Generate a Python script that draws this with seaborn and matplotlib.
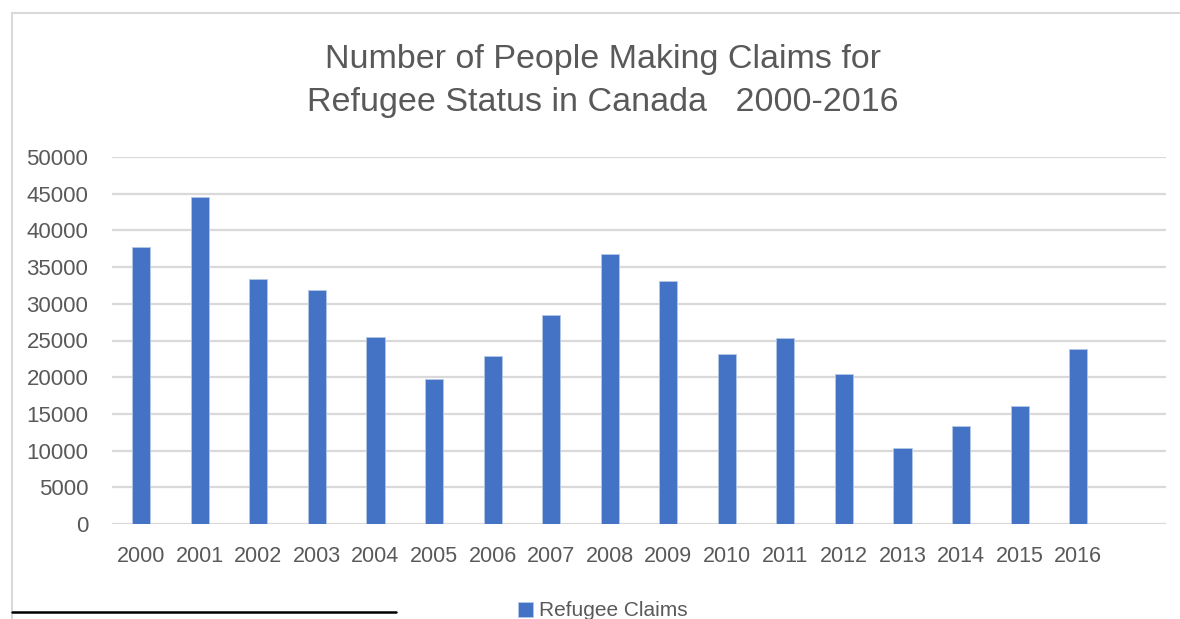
import matplotlib
matplotlib.use("Agg")
import matplotlib.pyplot as plt
import seaborn as sns
import pandas as pd
from matplotlib.lines import Line2D

years = ["2000", "2001", "2002", "2003", "2004", "2005", "2006", "2007", "2008",
         "2009", "2010", "2011", "2012", "2013", "2014", "2015", "2016"]
claims = [37700, 44600, 33400, 31900, 25500, 19700, 22900, 28500, 36800,
          33100, 23100, 25300, 20400, 10300, 13400, 16100, 23900]
categories = years + [""]
series_name = "Refugee Claims"
title_lines = ["Number of People Making Claims for",
               "Refugee Status in Canada   2000-2016"]
y_ticks = list(range(0, 50001, 5000))

sns.set_theme(style="white")
plt.rcParams["font.family"] = ["Liberation Sans", "DejaVu Sans"]

txt = "#595959"
grid = "#D9D9D9"
blue = "#4472C4"

fig = plt.figure(figsize=(11.8, 6.19), dpi=100)
ax = fig.add_axes([112 / 1180, 1 - 524 / 619, (1166 - 112) / 1180, (524 - 157) / 619])

df = pd.DataFrame({"year": years, "claims": claims})
sns.barplot(data=df, x="year", y="claims", order=categories, color=blue,
            width=0.31, saturation=1, edgecolor="#B4C7E7", linewidth=0.6,
            label=series_name, ax=ax)

ax.set_xlim(-0.5, len(categories) - 0.5)
ax.set_ylim(0, 50000)
ax.set_yticks(y_ticks)
ax.set_yticklabels([str(v) for v in y_ticks])
ax.set_xlabel("")
ax.set_ylabel("")
for s in ax.spines.values():
    s.set_visible(False)
ax.yaxis.grid(True, color=grid, linewidth=1.6)
ax.set_axisbelow(True)
ax.tick_params(axis="y", length=0, pad=17, labelsize=16, labelcolor=txt)
ax.tick_params(axis="x", length=0, pad=16, labelsize=15.5, labelcolor=txt)
if ax.get_legend():
    ax.get_legend().remove()

# title
fig.text(603 / 1180, 1 - 68 / 619, title_lines[0], ha="center", va="baseline",
         fontsize=24.5, color=txt)
fig.text(603 / 1180, 1 - 111 / 619, title_lines[1], ha="center", va="baseline",
         fontsize=24.5, color=txt)

# legend (partially cut off at bottom edge)
handles, labels = ax.get_legend_handles_labels()
leg = fig.legend(handles[:1], labels[:1], loc="center left",
                 bbox_to_anchor=(518 / 1180, 1 - 611 / 619), frameon=False,
                 fontsize=15, labelcolor=txt, handlelength=0.7, handleheight=0.7,
                 handletextpad=0.3, borderaxespad=0, borderpad=0)

# chart border and stray line
fig.add_artist(Line2D([12 / 1180, 1.0], [1 - 12.5 / 619, 1 - 12.5 / 619],
                      color=grid, linewidth=1.5, transform=fig.transFigure))
fig.add_artist(Line2D([11.5 / 1180, 11.5 / 1180], [0, 1 - 12.5 / 619],
                      color=grid, linewidth=1.5, transform=fig.transFigure))
fig.add_artist(Line2D([12 / 1180, 396 / 1180], [1 - 612 / 619, 1 - 612 / 619],
                      color="black", linewidth=1.8, transform=fig.transFigure))

fig.savefig("out.png", dpi=100)
